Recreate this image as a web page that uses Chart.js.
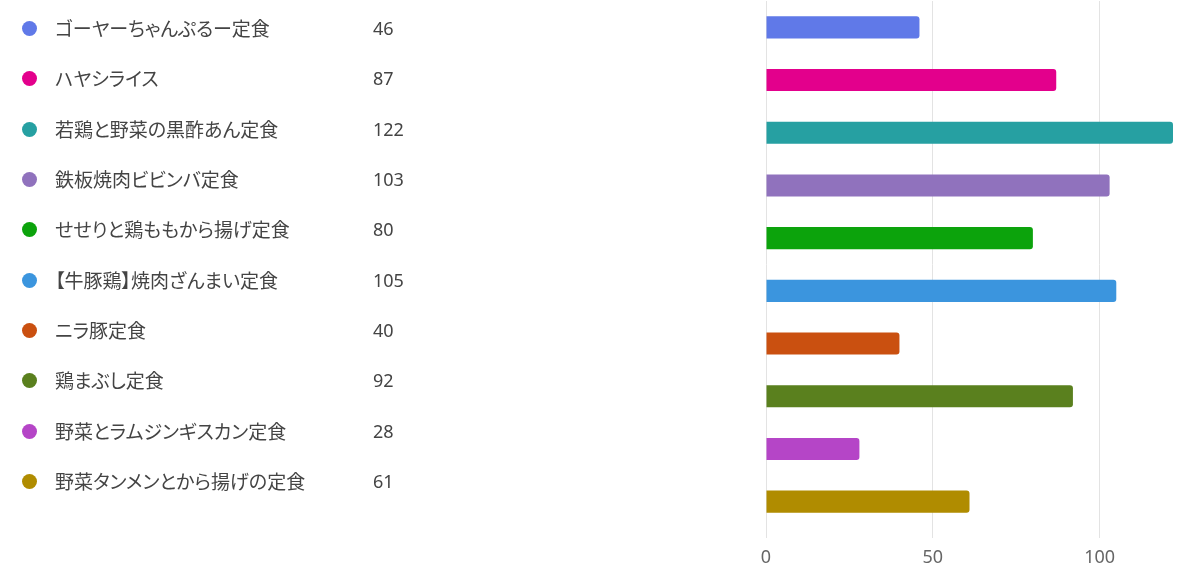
<!DOCTYPE html>
<html>
<head>
<meta charset="utf-8">
<script src="https://cdn.jsdelivr.net/npm/chart.js@4/dist/chart.umd.min.js"></script>
<style>
  html, body { margin: 0; padding: 0; background: #fff; }
  #wrap { position: relative; width: 1200px; height: 578px; overflow: hidden; }
  #chart { position: absolute; left: 0; top: 0; }
  #list { position: absolute; left: 0; top: 0; width: 740px; height: 578px; }
  .row { position: absolute; left: 0; height: 30px; }
  .dot { position: absolute; left: 22px; top: 8px; width: 15px; height: 15px; border-radius: 50%; }
  .name { position: absolute; left: 55px; top: 0; height: 30px; line-height: 30px; white-space: nowrap; color: #444;
          font-family: "Noto Sans CJK JP", sans-serif; font-size: 19px; font-feature-settings: "palt"; }
  .val { position: absolute; left: 373px; top: 0; height: 30px; line-height: 30px; color: #444;
         font-family: "Noto Sans", sans-serif; font-size: 18px; }
</style>
</head>
<body>
<div id="wrap">
  <canvas id="chart" width="1200" height="578"></canvas>
  <div id="list"></div>
</div>
<script>
const menus = [
  'ゴーヤーちゃんぷるー定食',
  'ハヤシライス',
  '若鶏と野菜の黒酢あん定食',
  '鉄板焼肉ビビンバ定食',
  'せせりと鶏ももから揚げ定食',
  '【牛豚鶏】焼肉ざんまい定食',
  'ニラ豚定食',
  '鶏まぶし定食',
  '野菜とラムジンギスカン定食',
  '野菜タンメンとから揚げの定食'
];
const votes = [46, 87, 122, 103, 80, 105, 40, 92, 28, 61];
const colors = ['#6079e8', '#e3008c', '#26a0a2', '#9072bd', '#0ca30c',
                '#3b95de', '#ca5010', '#5a801e', '#b545c7', '#b08c00'];
const xTicks = [0, 50, 100];

// list on the left
const list = document.getElementById('list');
menus.forEach((m, i) => {
  const row = document.createElement('div');
  row.className = 'row';
  row.style.top = (28 + i * 50.35 - 15) + 'px';
  row.innerHTML = `<span class="dot" style="background:${colors[i]}"></span>` +
    `<span class="name">${m}</span><span class="val">${votes[i]}</span>`;
  list.appendChild(row);
});

const ctx = document.getElementById('chart').getContext('2d');
new Chart(ctx, {
  type: 'bar',
  data: {
    labels: menus,
    datasets: [{
      data: votes,
      backgroundColor: colors,
      borderRadius: 3,
      categoryPercentage: 1,
      barPercentage: 0.42
    }]
  },
  options: {
    indexAxis: 'y',
    responsive: false,
    animation: false,
    layout: { padding: { left: 766, right: 27, top: 1, bottom: 0 } },
    plugins: { legend: { display: false }, tooltip: { enabled: false } },
    scales: {
      y: { display: false },
      x: {
        min: 0,
        max: 122,
        afterBuildTicks: scale => { scale.ticks = xTicks.map(v => ({ value: v })); },
        grid: { color: '#e3e3e3', tickLength: 10 },
        border: { display: false },
        ticks: { color: '#666', padding: 11, maxRotation: 0,
                 font: { family: 'Noto Sans', size: 18, lineHeight: 1 } }
      }
    }
  }
});
</script>
</body>
</html>
